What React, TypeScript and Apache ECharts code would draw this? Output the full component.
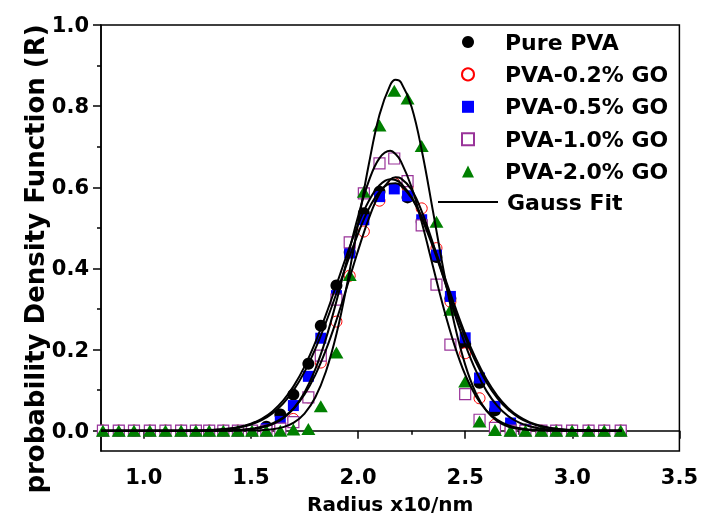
import React, { useEffect, useRef } from "react";
import * as echarts from "echarts";

// Radius (x10 nm) of the measured points
const X_RADIUS = [0.809, 0.883, 0.954, 1.028, 1.101, 1.174, 1.243, 1.305, 1.371, 1.439, 1.505, 1.572, 1.637, 1.698, 1.768, 1.826, 1.899, 1.961, 2.027, 2.100, 2.169, 2.231, 2.297, 2.366, 2.431, 2.500, 2.567, 2.639, 2.712, 2.781, 2.856, 2.925, 2.999, 3.076, 3.149, 3.226];

const PURE_PVA = [0, 0, 0, 0, 0, 0, 0, 0, 0, 0, 0, 0.01, 0.04, 0.089, 0.165, 0.259, 0.358, 0.44, 0.536, 0.589, 0.61, 0.575, 0.515, 0.428, 0.326, 0.214, 0.118, 0.05, 0.015, 0.003, 0, 0, 0, 0, 0, 0];
const GO_02 = [0, 0, 0, 0, 0, 0, 0, 0, 0, 0, 0, 0, 0.01, 0.029, 0.082, 0.168, 0.269, 0.382, 0.491, 0.567, 0.61, 0.6, 0.548, 0.45, 0.318, 0.191, 0.08, 0.015, 0.003, 0, 0, 0, 0, 0, 0, 0];
const GO_05 = [0, 0, 0, 0, 0, 0, 0, 0, 0, 0, 0, 0.005, 0.023, 0.062, 0.134, 0.228, 0.333, 0.438, 0.52, 0.577, 0.596, 0.579, 0.52, 0.433, 0.331, 0.229, 0.13, 0.06, 0.019, 0.003, 0, 0, 0, 0, 0, 0];
const GO_10 = [0, 0, 0, 0, 0, 0, 0, 0, 0, 0, 0, 0, 0.005, 0.021, 0.082, 0.185, 0.323, 0.464, 0.585, 0.659, 0.671, 0.615, 0.506, 0.36, 0.212, 0.09, 0.027, 0.007, 0, 0, 0, 0, 0, 0, 0, 0];
const GO_20 = [0, 0, 0, 0, 0, 0, 0, 0, 0, 0, 0, 0, 0, 0.003, 0.004, 0.06, 0.193, 0.384, 0.589, 0.752, 0.838, 0.819, 0.702, 0.515, 0.298, 0.121, 0.023, 0.002, 0, 0, 0, 0, 0, 0, 0, 0];

// Gauss fit curves
const FIT_X = [0.8, 1.0, 1.2, 1.3, 1.4, 1.45, 1.5, 1.55, 1.6, 1.65, 1.7, 1.75, 1.8, 1.85, 1.9, 1.95, 2.0, 2.05, 2.1, 2.15, 2.175, 2.2, 2.25, 2.3, 2.35, 2.4, 2.45, 2.5, 2.55, 2.6, 2.65, 2.7, 2.75, 2.8, 2.85, 2.9, 2.95, 3.0, 3.1, 3.23];
const FIT_PURE = [0, 0, 0.0003, 0.0014, 0.0054, 0.0098, 0.0174, 0.0294, 0.0476, 0.074, 0.1105, 0.158, 0.217, 0.286, 0.361, 0.437, 0.508, 0.566, 0.605, 0.62, 0.618, 0.61, 0.575, 0.52, 0.452, 0.376, 0.3, 0.23, 0.169, 0.119, 0.0805, 0.0522, 0.0324, 0.0194, 0.0111, 0.0061, 0.0032, 0.0016, 0.0003, 0];
const FIT_02 = [0, 0, 0, 0.0001, 0.001, 0.0023, 0.0048, 0.0096, 0.0181, 0.0325, 0.0553, 0.0893, 0.137, 0.199, 0.274, 0.358, 0.444, 0.523, 0.584, 0.619, 0.625, 0.622, 0.594, 0.537, 0.461, 0.376, 0.29, 0.213, 0.148, 0.0976, 0.0611, 0.0363, 0.0204, 0.0109, 0.0055, 0.0027, 0.0012, 0.0005, 0, 0];
const FIT_05 = [0, 0, 0.0002, 0.0012, 0.0046, 0.0086, 0.0153, 0.0261, 0.0427, 0.0669, 0.1006, 0.145, 0.201, 0.267, 0.34, 0.415, 0.486, 0.547, 0.589, 0.609, 0.61, 0.604, 0.574, 0.524, 0.459, 0.385, 0.31, 0.239, 0.1774, 0.126, 0.086, 0.0562, 0.0352, 0.0212, 0.0122, 0.0068, 0.0036, 0.0018, 0.0004, 0];
const FIT_10 = [0, 0, 0, 0.0002, 0.0006, 0.0015, 0.0034, 0.0075, 0.0156, 0.0303, 0.0552, 0.0943, 0.151, 0.227, 0.321, 0.425, 0.528, 0.615, 0.672, 0.69, 0.682, 0.664, 0.6, 0.508, 0.404, 0.301, 0.211, 0.138, 0.0852, 0.0492, 0.0267, 0.0136, 0.0065, 0.0029, 0.0012, 0.0005, 0.0002, 0.0001, 0, 0];
const FIT_20 = [0, 0, 0, 0, 0, 0.0001, 0.0005, 0.0013, 0.0036, 0.0088, 0.0201, 0.0423, 0.0819, 0.146, 0.24, 0.365, 0.51, 0.656, 0.779, 0.852, 0.865, 0.859, 0.798, 0.684, 0.54, 0.393, 0.263, 0.163, 0.0926, 0.0486, 0.0235, 0.0105, 0.0043, 0.0016, 0.0006, 0.0002, 0.0001, 0, 0, 0];

const X_MAJOR = [1.0, 1.5, 2.0, 2.5, 3.0, 3.5];
const X_MINOR = [1.25, 1.75, 2.25, 2.75, 3.25];
const Y_MAJOR = [0.0, 0.2, 0.4, 0.6, 0.8, 1.0];
const Y_MINOR = [0.1, 0.3, 0.5, 0.7, 0.9];

const SERIES_NAMES = ["Pure PVA", "PVA-0.2% GO", "PVA-0.5% GO", "PVA-1.0% GO", "PVA-2.0% GO"];
const FIT_NAME = "Gauss Fit";
const X_TITLE = "Radius x10/nm";
const Y_TITLE = "probability Density Function (R)";

const FONT = '"DejaVu Sans", "Liberation Sans", sans-serif';

const zip = (xs: number[], ys: number[]) => xs.map((x, i) => [x, ys[i]]);

export default function App() {
  const ref = useRef<HTMLDivElement>(null);
  useEffect(() => {
    if (!ref.current) return;
    const chart = echarts.init(ref.current, undefined, { renderer: "svg" });
    const txt = { fontFamily: FONT, fontWeight: "bold" as const, color: "#000" };
    const scatterDefs = [
      { name: SERIES_NAMES[0], data: PURE_PVA, symbol: "circle", size: 12, style: { color: "#000000", opacity: 1 } },
      { name: SERIES_NAMES[1], data: GO_02, symbol: "circle", size: 11, style: { color: "#ffffff", borderColor: "#ff0000", borderWidth: 1, opacity: 1 } },
      { name: SERIES_NAMES[2], data: GO_05, symbol: "rect", size: 11, style: { color: "#0000ff", opacity: 1 } },
      { name: SERIES_NAMES[3], data: GO_10, symbol: "rect", size: 11, style: { color: "#ffffff", borderColor: "#993399", borderWidth: 1.2, opacity: 1 } },
      { name: SERIES_NAMES[4], data: GO_20, symbol: "triangle", size: [14, 12], style: { color: "#008000", opacity: 1 } },
    ];
    const fits = [FIT_PURE, FIT_02, FIT_05, FIT_10, FIT_20];
    chart.setOption({
      animation: false,
      grid: { left: 101, right: 19, top: 25, bottom: 70, show: true, borderColor: "#000", borderWidth: 1.5, backgroundColor: "transparent" },
      xAxis: [
        {
          type: "value", min: 0.8, max: 3.5,
          name: X_TITLE, nameLocation: "middle", nameGap: 43,
          nameTextStyle: { ...txt, fontSize: 20 },
          axisLine: { show: true, lineStyle: { color: "#000", width: 1.5 } },
          axisTick: { show: true, inside: false, length: 8, customValues: X_MAJOR, lineStyle: { color: "#000", width: 1.5 } },
          axisLabel: { show: true, customValues: X_MAJOR, margin: 15, formatter: (v: number) => v.toFixed(1), ...txt, fontSize: 21 },
          splitLine: { show: false },
        },
        {
          type: "value", min: 0.8, max: 3.5, position: "bottom",
          axisLine: { show: false },
          axisTick: { show: true, length: 4, customValues: X_MINOR, lineStyle: { color: "#000", width: 1.5 } },
          axisLabel: { show: false },
          splitLine: { show: false },
        },
      ],
      yAxis: [
        {
          type: "value", min: -0.05, max: 1.0,
          axisLine: { show: true, lineStyle: { color: "#000", width: 1.5 } },
          axisTick: { show: true, inside: false, length: 8, customValues: Y_MAJOR, lineStyle: { color: "#000", width: 1.5 } },
          axisLabel: { show: true, customValues: Y_MAJOR, margin: 12, formatter: (v: number) => v.toFixed(1), ...txt, fontSize: 21 },
          splitLine: { show: false },
        },
        {
          type: "value", min: -0.05, max: 1.0, position: "left",
          axisLine: { show: false },
          axisTick: { show: true, length: 4, customValues: Y_MINOR, lineStyle: { color: "#000", width: 1.5 } },
          axisLabel: { show: false },
          splitLine: { show: false },
        },
      ],
      legend: [
        {
          data: SERIES_NAMES, orient: "vertical", left: 456, top: 26,
          itemWidth: 12, itemHeight: 12, itemGap: 10.4, selectedMode: false,
          textStyle: { ...txt, fontSize: 22, padding: [0, 0, 0, 26] },
        },
        {
          data: [{ name: FIT_NAME, icon: "rect" }], orient: "vertical", left: 433, top: 186,
          itemWidth: 60, itemHeight: 2, selectedMode: false,
          itemStyle: { color: "#000" },
          textStyle: { ...txt, fontSize: 22, padding: [0, 0, 0, 4] },
        },
      ],
      graphic: [
        {
          type: "text", x: 35, y: 259, rotation: Math.PI / 2,
          style: { text: Y_TITLE, fontFamily: FONT, fontWeight: "bold", fontSize: 26, fill: "#000", align: "center", verticalAlign: "middle" },
        },
      ],
      series: [
        ...scatterDefs.map((d) => ({
          type: "scatter", name: d.name, data: zip(X_RADIUS, d.data),
          symbol: d.symbol, symbolSize: d.size, itemStyle: d.style,
          xAxisIndex: 0, yAxisIndex: 0,
        })),
        ...fits.map((f) => ({
          type: "line", name: FIT_NAME, data: zip(FIT_X, f), smooth: 0.4, symbol: "none",
          showSymbol: false, lineStyle: { color: "#000", width: 2 }, itemStyle: { color: "#000" },
          xAxisIndex: 0, yAxisIndex: 0, z: 3,
        })),
      ],
    });
    return () => chart.dispose();
  }, []);
  return <div ref={ref} style={{ position: "fixed", left: 0, top: 0, width: 701, height: 521 }} />;
}
